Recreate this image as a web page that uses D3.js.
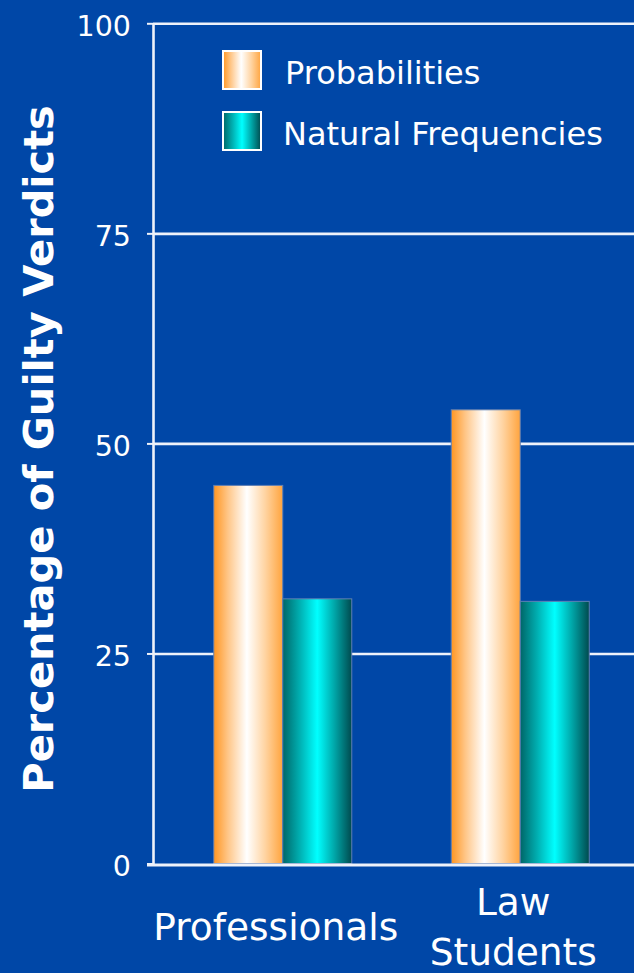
<!DOCTYPE html>
<html>
<head>
<meta charset="utf-8">
<script src="https://cdn.jsdelivr.net/npm/d3@7"></script>
<style>
  html, body { margin: 0; padding: 0; background: #0047a7; }
  svg { display: block; }
  text { font-family: "DejaVu Sans", Verdana, sans-serif; fill: #ffffff; }
</style>
</head>
<body>
<script>
// Guilty verdicts by group and presentation format
const categories = ["Professionals", "Law Students"];
const categoryLines = [["Professionals"], ["Law", "Students"]];
const series = ["Probabilities", "Natural Frequencies"];
const probabilities = [45, 54];
const naturalFrequencies = [31.5, 31.2];
const yTicks = [0, 25, 50, 75, 100];
const yTitle = "Percentage of Guilty Verdicts";

const W = 634, H = 973;
const bg = "#0047a7";

const svg = d3.select("body").append("svg")
  .attr("width", W).attr("height", H);

svg.append("rect").attr("width", W).attr("height", H).attr("fill", bg);

// Gradients for the cylinder-like bars
const defs = svg.append("defs");
function hGrad(id, stops) {
  const g = defs.append("linearGradient").attr("id", id)
    .attr("x1", "0%").attr("x2", "100%").attr("y1", "0%").attr("y2", "0%");
  stops.forEach(([o, c]) => g.append("stop").attr("offset", o).attr("stop-color", c));
}
hGrad("gradProb", [["0%", "#ff9622"], ["20%", "#ffc585"], ["48%", "#ffffff"], ["75%", "#ffd3a0"], ["100%", "#ffa43e"]]);
hGrad("gradFreq", [["0%", "#006668"], ["25%", "#00b0b2"], ["50%", "#00ffff"], ["75%", "#00a6a8"], ["100%", "#004a4e"]]);
const fills = { "Probabilities": "url(#gradProb)", "Natural Frequencies": "url(#gradFreq)" };

// Scales
const axisX = 153;
const y = d3.scaleLinear().domain([0, 100]).range([863.5, 23.3]);
const x0 = d3.scalePoint().domain(categories).range([164, 639]).padding(0.5);
const x1 = d3.scaleBand().domain(series).range([-69, 69]).padding(0);

// Gridlines
const grid = svg.append("g").attr("transform", `translate(${axisX},0)`)
  .call(d3.axisLeft(y).tickValues(yTicks.filter(d => d > 0)).tickSize(-(W - axisX)).tickFormat(""));
grid.select(".domain").remove();
grid.selectAll("line").attr("stroke", "#eef2fa").attr("stroke-width", 2.6);

// Left axis with ticks and labels
const yAxis = svg.append("g").attr("transform", `translate(${axisX},0)`)
  .call(d3.axisLeft(y).tickValues(yTicks).tickSize(6).tickPadding(16).tickSizeOuter(0));
yAxis.select(".domain").attr("stroke", "#eef2fa").attr("stroke-width", 2.6);
yAxis.selectAll(".tick line").attr("stroke", "#eef2fa").attr("stroke-width", 2);
yAxis.selectAll(".tick text")
  .attr("fill", "#ffffff").attr("font-size", 28.5).attr("dy", "0.42em")
  .attr("font-family", "DejaVu Sans, Verdana, sans-serif");

// Bars
const rows = categories.map((c, i) => ({
  category: c,
  values: [
    { key: series[0], value: probabilities[i] },
    { key: series[1], value: naturalFrequencies[i] }
  ]
}));

const groups = svg.append("g").selectAll("g").data(rows).join("g")
  .attr("transform", d => `translate(${x0(d.category)},0)`);

groups.selectAll("rect").data(d => d.values).join("rect")
  .attr("x", d => x1(d.key))
  .attr("y", d => y(d.value))
  .attr("width", x1.bandwidth())
  .attr("height", d => y(0) - y(d.value))
  .attr("fill", d => fills[d.key])
  .attr("stroke", "#5f7fb4")
  .attr("stroke-width", 1);

// Baseline
svg.append("line")
  .attr("x1", axisX - 6).attr("x2", W)
  .attr("y1", y(0) + 1.5).attr("y2", y(0) + 1.5)
  .attr("stroke", "#eef2fa").attr("stroke-width", 3);

// Category labels
const catLabels = svg.append("g").selectAll("text").data(categories).join("text")
  .attr("text-anchor", "middle")
  .attr("font-size", 37.5)
  .attr("x", d => x0(d) - 7);
catLabels.each(function(d, i) {
  const lines = categoryLines[i];
  const lineH = 50;
  const mid = 939.5;
  const first = mid - (lines.length - 1) * lineH / 2;
  d3.select(this).selectAll("tspan").data(lines).join("tspan")
    .attr("x", x0(d) - 7)
    .attr("y", (l, j) => first + j * lineH)
    .text(l => l);
});

// Axis title
svg.append("text")
  .attr("transform", `translate(53,449) rotate(-90)`)
  .attr("text-anchor", "middle")
  .attr("font-size", 41.5)
  .attr("font-weight", "bold")
  .text(yTitle);

// Legend
const legend = svg.append("g").selectAll("g").data(series).join("g")
  .attr("transform", (d, i) => `translate(223,${51 + i * 61})`);
legend.append("rect")
  .attr("width", 38).attr("height", 38)
  .attr("fill", d => fills[d])
  .attr("stroke", "#ffffff").attr("stroke-width", 2);
legend.append("text")
  .attr("x", (d, i) => i === 0 ? 62 : 60)
  .attr("y", 32.5)
  .attr("font-size", 32)
  .text(d => d);
</script>
</body>
</html>
